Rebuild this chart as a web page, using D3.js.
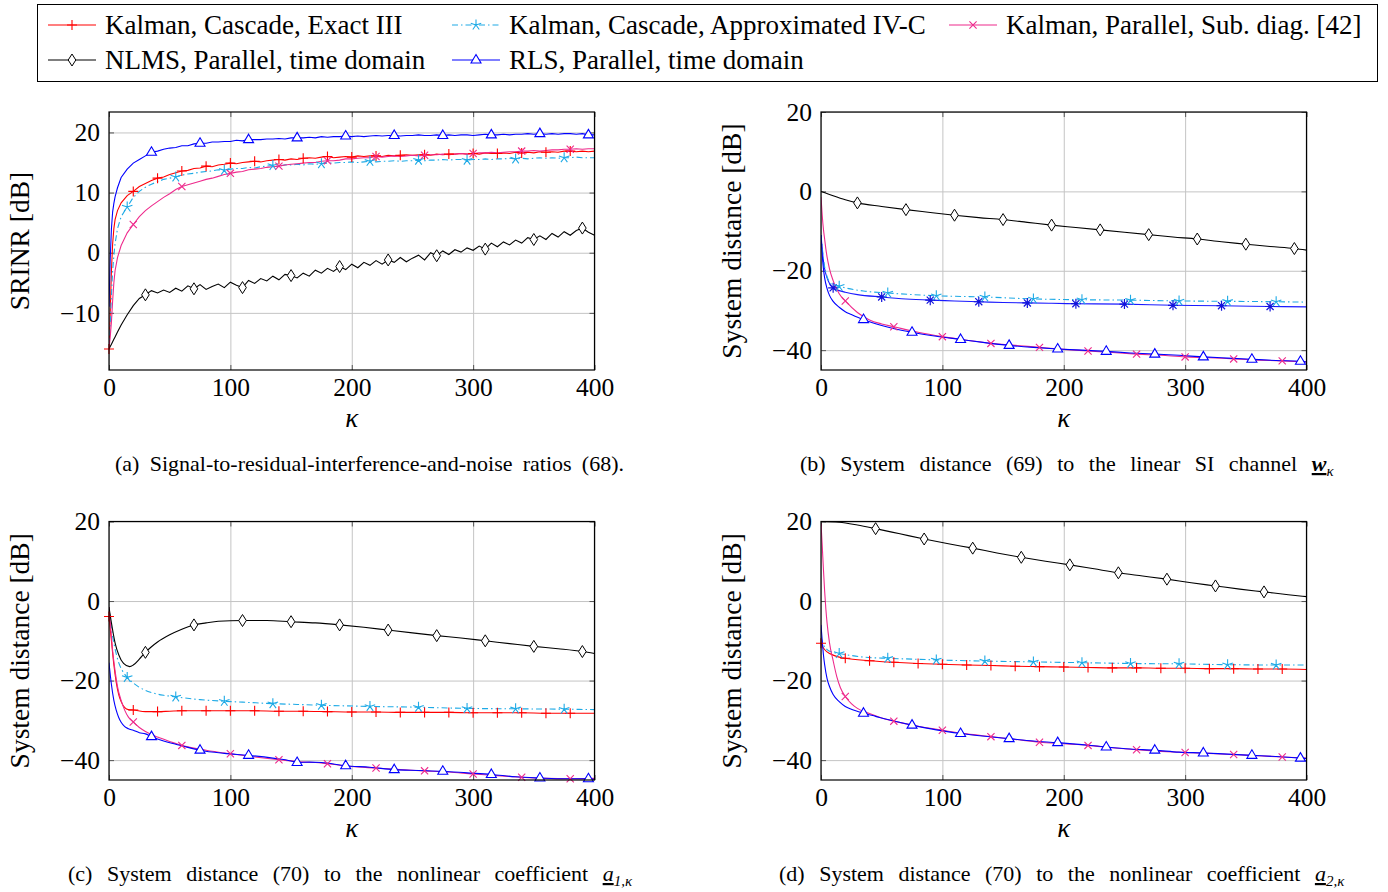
<!DOCTYPE html>
<html>
<head>
<meta charset="utf-8">
<script src="https://cdn.jsdelivr.net/npm/d3@7"></script>
<style>
  body { margin: 0; background: #fff; }
  svg text { font-family: "Liberation Serif", "Times New Roman", serif; fill: #000; }
</style>
</head>
<body>
<svg id="fig" width="1388" height="892"></svg>
<script>
// ---- data: [kappa, dB] ----
const xTicks = [0, 100, 200, 300, 400];
const srinrTicks = [-10, 0, 10, 20];
const distTicks = [-40, -20, 0, 20];

// (a) SRINR
const aExact = [[0,-16],[1,-10],[2,-3],[3,1.5],[4,4],[5,5.5],[7,7],[10,8.3],[15,9.5],[20,10.2],[25,11.0],[30,11.5],[35,12.0],[40,12.4],[45,12.6],[50,13.0],[55,13.3],[60,13.6],[65,13.7],[70,14.0],[75,14.1],[80,14.4],[85,14.3],[90,14.6],[95,14.7],[100,14.9],[105,14.8],[110,15.0],[115,15.1],[120,15.2],[125,15.1],[130,15.3],[135,15.4],[140,15.5],[145,15.4],[150,15.6],[155,15.5],[160,15.7],[165,15.8],[170,15.7],[175,15.9],[180,16.0],[185,15.8],[190,15.9],[195,16.0],[200,15.9],[205,16.1],[210,16.0],[215,16.1],[220,16.1],[225,16.0],[230,16.2],[235,16.1],[240,16.2],[245,16.3],[250,16.2],[255,16.3],[260,16.3],[265,16.2],[270,16.4],[275,16.3],[280,16.4],[285,16.4],[290,16.5],[295,16.4],[300,16.5],[305,16.4],[310,16.6],[315,16.5],[320,16.5],[325,16.6],[330,16.5],[335,16.7],[340,16.6],[345,16.7],[350,16.6],[355,16.8],[360,16.7],[365,16.8],[370,16.7],[375,16.9],[380,16.9],[385,16.8],[390,16.9],[395,16.8],[400,16.9]];
const aApprox = [[0,-16],[1,-12],[2,-7],[3,-3],[4,-0.5],[5,1.5],[7,4],[10,6],[15,7.6],[20,9.2],[25,10.2],[30,10.9],[35,11.4],[40,11.8],[45,12.2],[50,12.4],[55,12.6],[60,12.9],[65,13.1],[70,13.2],[75,13.4],[80,13.5],[85,13.6],[90,13.8],[95,13.7],[100,13.9],[105,14.0],[110,14.0],[115,14.2],[120,14.1],[125,14.3],[130,14.4],[135,14.5],[140,14.4],[145,14.6],[150,14.6],[155,14.7],[160,14.6],[165,14.8],[170,14.7],[175,14.8],[180,14.9],[185,14.9],[190,15.0],[195,15.0],[200,15.1],[205,15.0],[210,15.1],[215,15.2],[220,15.1],[225,15.2],[230,15.2],[235,15.3],[240,15.2],[245,15.3],[250,15.3],[255,15.4],[260,15.3],[265,15.4],[270,15.4],[275,15.5],[280,15.4],[285,15.5],[290,15.5],[295,15.4],[300,15.5],[305,15.5],[310,15.6],[315,15.5],[320,15.6],[325,15.6],[330,15.7],[335,15.6],[340,15.7],[345,15.6],[350,15.7],[355,15.8],[360,15.7],[365,15.8],[370,15.7],[375,15.8],[380,15.8],[385,15.9],[390,15.8],[395,15.8],[400,15.8]];
const aSub = [[0,-16],[1,-14],[2,-11.5],[3,-8],[4,-5],[5,-3],[7,-0.8],[10,1.2],[15,3.3],[20,4.7],[25,6.0],[30,7.0],[35,7.8],[40,8.5],[45,9.2],[50,9.8],[55,10.5],[60,11.0],[65,11.3],[70,11.6],[75,11.9],[80,12.2],[85,12.4],[90,12.7],[95,13.0],[100,13.2],[105,13.4],[110,13.5],[115,13.8],[120,13.9],[125,14.0],[130,14.2],[135,14.3],[140,14.4],[145,14.6],[150,14.7],[155,14.8],[160,14.9],[165,15.0],[170,15.0],[175,15.2],[180,15.3],[185,15.3],[190,15.4],[195,15.6],[200,15.6],[205,15.7],[210,15.8],[215,15.8],[220,16.0],[225,15.9],[230,16.0],[235,16.1],[240,16.0],[245,16.1],[250,16.2],[255,16.1],[260,16.2],[265,16.3],[270,16.3],[275,16.4],[280,16.3],[285,16.4],[290,16.5],[295,16.4],[300,16.5],[305,16.6],[310,16.6],[315,16.7],[320,16.6],[325,16.7],[330,16.8],[335,16.8],[340,16.9],[345,16.9],[350,17.0],[355,16.9],[360,17.0],[365,17.1],[370,17.1],[375,17.2],[380,17.2],[385,17.3],[390,17.2],[395,17.3],[400,17.3]];
const aNLMS = [[0,-16],[1,-15.6],[2,-15.2],[3,-14.8],[4,-14.4],[5,-14],[7,-13.2],[10,-12],[15,-10.3],[20,-8.8],[25,-7.6],[30,-7.0],[35,-6.3],[40,-6.7],[45,-6.2],[50,-6.6],[55,-5.9],[60,-6.4],[65,-5.5],[70,-6.0],[75,-5.3],[80,-6.1],[85,-5.6],[90,-5.2],[95,-5.8],[100,-4.9],[105,-5.4],[110,-5.8],[115,-4.6],[120,-5.1],[125,-4.3],[130,-4.7],[135,-3.9],[140,-4.5],[145,-3.6],[150,-3.8],[155,-4.2],[160,-3.4],[165,-3.9],[170,-2.9],[175,-3.4],[180,-2.6],[185,-3.1],[190,-2.3],[195,-2.8],[200,-1.9],[205,-2.5],[210,-1.6],[215,-2.1],[220,-1.3],[225,-1.9],[230,-1.2],[235,-1.6],[240,-0.8],[245,-1.5],[250,-0.9],[255,-0.4],[260,-1.2],[265,0.0],[270,-0.5],[275,0.3],[280,-0.3],[285,0.5],[290,0.1],[295,0.8],[300,0.4],[305,1.1],[310,0.6],[315,1.6],[320,1.0],[325,1.8],[330,1.3],[335,2.1],[340,1.6],[345,2.5],[350,2.2],[355,2.8],[360,2.2],[365,3.2],[370,2.6],[375,3.5],[380,2.9],[385,3.7],[390,4.1],[395,3.4],[400,2.9]];
const aRLS = [[0,-9],[1,-1],[2,4],[3,6.8],[4,8.2],[5,9.3],[7,10.8],[10,12.5],[15,13.9],[20,14.9],[25,15.5],[30,16.1],[35,16.7],[40,16.9],[45,17.2],[50,17.4],[55,17.5],[60,17.8],[65,17.8],[70,18.1],[75,18.2],[80,18.2],[85,18.4],[90,18.4],[95,18.5],[100,18.5],[105,18.7],[110,18.6],[115,18.8],[120,18.8],[125,18.8],[130,18.9],[135,18.9],[140,19.0],[145,18.9],[150,19.1],[155,19.1],[160,19.1],[165,19.2],[170,19.1],[175,19.3],[180,19.2],[185,19.3],[190,19.3],[195,19.4],[200,19.3],[205,19.4],[210,19.3],[215,19.4],[220,19.5],[225,19.4],[230,19.5],[235,19.5],[240,19.4],[245,19.5],[250,19.5],[255,19.6],[260,19.5],[265,19.5],[270,19.6],[275,19.5],[280,19.6],[285,19.5],[290,19.6],[295,19.6],[300,19.5],[305,19.6],[310,19.7],[315,19.6],[320,19.6],[325,19.7],[330,19.6],[335,19.7],[340,19.7],[345,19.8],[350,19.7],[355,19.8],[360,19.7],[365,19.8],[370,19.7],[375,19.8],[380,19.8],[385,19.7],[390,19.8],[395,19.6],[400,19.6]];

// (b) linear SI channel
const bExact = [[0,-11],[1,-14.5],[2,-17.5],[3,-19.5],[5,-21.8],[7,-23.2],[10,-24.3],[15,-25.0],[20,-25.4],[30,-26.0],[50,-26.6],[70,-27.1],[90,-27.4],[110,-27.6],[130,-27.8],[150,-28.0],[170,-28.1],[190,-28.2],[210,-28.3],[250,-28.4],[290,-28.7],[330,-28.8],[370,-29.0],[400,-29.1]];
const bApprox = [[0,-11],[1,-14],[2,-17],[3,-19],[5,-21.5],[7,-22.8],[10,-23.6],[15,-23.9],[20,-24.3],[35,-25.1],[55,-25.6],[75,-26.0],[95,-26.3],[135,-26.6],[175,-27.1],[215,-27.3],[255,-27.4],[295,-27.6],[335,-27.7],[375,-27.8],[400,-27.9]];
const bSub = [[0,-1.4],[1,-6],[2,-9.5],[3,-12],[4,-14.5],[5,-16.5],[7,-19.5],[10,-22.5],[15,-25.8],[20,-27.6],[30,-30.5],[40,-32.4],[50,-33.4],[60,-34.1],[80,-35.5],[100,-36.6],[120,-37.5],[140,-38.3],[160,-38.8],[180,-39.3],[200,-39.8],[220,-40.2],[240,-40.6],[260,-41.0],[280,-41.3],[300,-41.7],[320,-41.9],[340,-42.2],[360,-42.5],[380,-42.7],[400,-43.0]];
const bNLMS = [[0,0],[10,-1.1],[20,-2.1],[30,-2.9],[50,-3.8],[70,-4.6],[90,-5.3],[110,-6.0],[130,-6.6],[150,-7.1],[170,-7.8],[190,-8.5],[210,-9.1],[230,-9.7],[250,-10.3],[270,-10.9],[290,-11.5],[310,-12.0],[330,-12.7],[350,-13.3],[370,-13.9],[390,-14.4],[400,-14.8]];
const bRLS = [[0,-11],[1,-16],[2,-19.5],[3,-21.8],[5,-24.5],[7,-26.2],[10,-27.7],[15,-29.2],[20,-30.3],[25,-31.0],[35,-32.3],[50,-33.8],[75,-35.5],[95,-36.5],[115,-37.3],[135,-38.1],[155,-38.8],[175,-39.3],[195,-39.7],[215,-40.0],[235,-40.3],[255,-40.7],[275,-41.0],[295,-41.3],[315,-41.7],[335,-42.0],[355,-42.3],[375,-42.6],[395,-42.8],[400,-43.0]];

// (c) nonlinear coefficient a1
const cExact = [[0,-3.9],[2,-10],[4,-16],[6,-20.5],[8,-23.5],[10,-25.3],[13,-26.8],[16,-27.3],[20,-27.4],[30,-27.8],[40,-27.8],[50,-27.7],[60,-27.6],[80,-27.6],[100,-27.6],[120,-27.6],[140,-27.7],[160,-27.7],[180,-27.8],[200,-27.9],[220,-27.9],[240,-28.0],[260,-28.0],[280,-28.0],[300,-28.1],[320,-28.1],[340,-28.1],[360,-28.2],[380,-28.2],[400,-28.2]];
const cApprox = [[0,-2],[2,-7],[5,-12],[8,-15.5],[11,-17.5],[15,-19.2],[20,-20.6],[25,-21.7],[35,-23.0],[45,-23.7],[55,-24.1],[75,-24.8],[95,-25.2],[115,-25.5],[135,-25.8],[155,-26.0],[175,-26.2],[215,-26.5],[255,-26.7],[295,-27.0],[335,-27.1],[375,-27.2],[400,-27.3]];
const cSub = [[0,-1.5],[1,-5],[2,-9],[3,-12.5],[5,-17.5],[7,-21.5],[10,-25],[13,-27.5],[16,-29.2],[20,-30.4],[25,-31.8],[30,-32.8],[40,-34.2],[50,-35.3],[60,-36.3],[80,-37.5],[100,-38.4],[120,-39.2],[140,-39.9],[160,-40.5],[170,-40.6],[180,-40.9],[200,-41.6],[220,-42.0],[240,-42.4],[260,-42.7],[280,-43.0],[300,-43.5],[320,-43.9],[340,-44.3],[360,-44.6],[380,-44.7],[400,-44.6]];
const cNLMS = [[0,-1.5],[2,-5.5],[5,-10.5],[8,-13.5],[12,-15.7],[17,-16.5],[20,-16.1],[25,-14.6],[30,-12.9],[35,-11.5],[40,-10.3],[50,-8.5],[60,-7.1],[70,-6.0],[80,-5.5],[90,-5.1],[110,-4.9],[130,-4.9],[150,-5.2],[170,-5.5],[190,-6.0],[210,-6.6],[230,-7.3],[250,-8.0],[270,-8.7],[290,-9.3],[310,-10.0],[330,-10.7],[350,-11.4],[370,-12.0],[390,-12.7],[400,-13.2]];
const cRLS = [[0,-15.5],[2,-21],[4,-25],[6,-27.5],[8,-29.3],[10,-30.5],[13,-31.6],[16,-32.1],[20,-32.5],[25,-33.1],[30,-33.4],[35,-34.1],[45,-35.2],[55,-36.0],[65,-36.8],[75,-37.5],[95,-38.3],[115,-38.8],[135,-39.5],[150,-40.2],[155,-40.6],[165,-40.5],[175,-40.6],[195,-41.4],[215,-41.8],[235,-42.4],[255,-42.6],[275,-42.8],[295,-43.2],[315,-43.6],[335,-44.2],[355,-44.5],[375,-44.7],[395,-44.7],[400,-44.8]];

// (d) nonlinear coefficient a2
const dExact = [[0,-10.6],[2,-11.8],[5,-12.8],[10,-13.6],[15,-14.1],[20,-14.4],[40,-15.0],[60,-15.4],[80,-15.7],[100,-15.9],[120,-16.1],[140,-16.2],[160,-16.4],[180,-16.5],[200,-16.6],[220,-16.7],[240,-16.8],[260,-16.8],[280,-16.9],[300,-16.9],[320,-17.0],[340,-17.0],[360,-17.1],[380,-17.1],[400,-17.2]];
const dApprox = [[0,-9],[2,-11],[5,-12.2],[10,-12.9],[15,-13.2],[25,-13.7],[35,-14.1],[55,-14.4],[75,-14.6],[95,-14.8],[135,-15.1],[175,-15.3],[215,-15.5],[255,-15.7],[295,-15.8],[335,-16.0],[375,-16.1],[400,-16.1]];
const dSub = [[0,19.5],[1,14],[2,8],[3,2.5],[4,-2],[5,-5.5],[7,-10.5],[10,-15],[13,-19],[16,-21.8],[20,-24],[25,-25.8],[30,-27],[40,-28.3],[50,-29.4],[60,-30.2],[80,-31.5],[100,-32.5],[120,-33.4],[140,-34.1],[160,-34.8],[180,-35.5],[200,-35.9],[220,-36.3],[240,-36.9],[260,-37.4],[280,-37.8],[300,-38.1],[320,-38.3],[340,-38.6],[360,-38.9],[380,-39.2],[400,-39.5]];
const dNLMS = [[0,20],[15,19.8],[30,19.1],[45,18.2],[65,16.9],[85,15.6],[105,14.4],[125,13.3],[145,12.1],[165,11.0],[185,10.0],[205,9.1],[225,8.1],[245,7.1],[265,6.3],[285,5.5],[305,4.6],[325,3.8],[345,3.0],[365,2.3],[385,1.6],[400,1.1]];
const dRLS = [[0,-6],[1,-10],[2,-13.5],[3,-16],[5,-19.5],[7,-21.5],[10,-23.5],[15,-25.3],[20,-26.5],[25,-27.2],[35,-28.2],[45,-29.0],[55,-29.8],[75,-31.2],[95,-32.4],[115,-33.3],[135,-34.0],[155,-34.6],[175,-35.2],[195,-35.6],[215,-36.1],[235,-36.7],[255,-37.2],[275,-37.5],[295,-38.0],[315,-38.2],[335,-38.5],[355,-38.8],[375,-39.1],[395,-39.5],[400,-39.6]];

const legendNames = {
    exact: "Kalman, Cascade, Exact III",
    approx: "Kalman, Cascade, Approximated IV-C",
    sub: "Kalman, Parallel, Sub. diag. [42]",
    nlms: "NLMS, Parallel, time domain",
    rls: "RLS, Parallel, time domain"
};

// ---- styles ----
const styles = {
    exact:  { color: "#ff0000", mark: "plus" },
    approx: { color: "#1eaae6", mark: "star", dash: "6,3,1.5,3" },
    sub:    { color: "#ee2a8c", mark: "cross" },
    nlms:   { color: "#000000", mark: "diamond" },
    rls:    { color: "#0000ff", mark: "triangle" },
    exactB: { color: "#1a1aff", mark: "asterisk", markColor: "#1212dc" }
};

const svg = d3.select("#fig");

function drawMark(g, type, cx, cy, color) {
    if (type === "plus") {
        g.append("path").attr("d", `M${cx-5},${cy}H${cx+5}M${cx},${cy-5}V${cy+5}`)
         .attr("stroke", color).attr("stroke-width", 1.1).attr("fill", "none");
    } else if (type === "cross") {
        g.append("path").attr("d", `M${cx-3.6},${cy-3.6}L${cx+3.6},${cy+3.6}M${cx-3.6},${cy+3.6}L${cx+3.6},${cy-3.6}`)
         .attr("stroke", color).attr("stroke-width", 1.1).attr("fill", "none");
    } else if (type === "star") {
        let d = "";
        for (let i = 0; i < 5; i++) {
            const a = -Math.PI / 2 + i * 2 * Math.PI / 5;
            d += `M${cx},${cy}L${cx + 5.5 * Math.cos(a)},${cy + 5.5 * Math.sin(a)}`;
        }
        g.append("path").attr("d", d).attr("stroke", color).attr("stroke-width", 1.1).attr("fill", "none");
    } else if (type === "asterisk") {
        let d = "";
        for (let i = 0; i < 4; i++) {
            const a = i * Math.PI / 4;
            d += `M${cx - 5 * Math.cos(a)},${cy - 5 * Math.sin(a)}L${cx + 5 * Math.cos(a)},${cy + 5 * Math.sin(a)}`;
        }
        g.append("path").attr("d", d).attr("stroke", color).attr("stroke-width", 1.2).attr("fill", "none");
    } else if (type === "diamond") {
        g.append("path").attr("d", `M${cx},${cy-6}L${cx+3.8},${cy}L${cx},${cy+6}L${cx-3.8},${cy}Z`)
         .attr("stroke", color).attr("stroke-width", 1).attr("fill", "#fff");
    } else if (type === "triangle") {
        g.append("path").attr("d", `M${cx},${cy-5.5}L${cx+5},${cy+3}L${cx-5},${cy+3}Z`)
         .attr("stroke", color).attr("stroke-width", 1.1).attr("fill", "#fff");
    }
}

const panels = [
    { box: [109, 112, 485.5, 258], yDom: [-19.5, 23.4], yTicks: srinrTicks, yLabel: "SRINR [dB]", curve: d3.curveLinear,
      series: [["exact", aExact, [0, 20, 380]], ["approx", aApprox, [15, 40, 375]], ["sub", aSub, [20, 40, 380]],
               ["nlms", aNLMS, [30, 40, 390]], ["rls", aRLS, [35, 40, 395]]] },
    { box: [821, 112, 485.5, 258], yDom: [-45, 20], yTicks: distTicks, yLabel: "System distance [dB]", curve: d3.curveMonotoneX,
      series: [["exactB", bExact, [10, 40, 370]], ["approx", bApprox, [15, 40, 375]], ["sub", bSub, [20, 40, 380]],
               ["nlms", bNLMS, [30, 40, 390]], ["rls", bRLS, [35, 40, 395]]] },
    { box: [109, 521.5, 485.5, 258.5], yDom: [-45, 20], yTicks: distTicks, yLabel: "System distance [dB]", curve: d3.curveMonotoneX,
      series: [["exact", cExact, [0, 20, 380]], ["approx", cApprox, [15, 40, 375]], ["sub", cSub, [20, 40, 380]],
               ["nlms", cNLMS, [30, 40, 390]], ["rls", cRLS, [35, 40, 395]]] },
    { box: [821, 521.5, 485.5, 258.5], yDom: [-45, 20], yTicks: distTicks, yLabel: "System distance [dB]", curve: d3.curveMonotoneX,
      series: [["exact", dExact, [0, 20, 380]], ["approx", dApprox, [15, 40, 375]], ["sub", dSub, [20, 40, 380]],
               ["nlms", dNLMS, [45, 40, 365]], ["rls", dRLS, [35, 40, 395]]] }
];

const fmt = v => v < 0 ? "\u2212" + (-v) : String(v);

panels.forEach((p, i) => {
    const [bx, by, bw, bh] = p.box;
    const x = d3.scaleLinear().domain([0, 400]).range([bx, bx + bw]);
    const y = d3.scaleLinear().domain(p.yDom).range([by + bh, by]);
    const g = svg.append("g");

    svg.append("clipPath").attr("id", "clip" + i)
       .append("rect").attr("x", bx).attr("y", by).attr("width", bw).attr("height", bh);

    // grid
    const gx = g.append("g").attr("transform", `translate(0,${by + bh})`)
        .call(d3.axisBottom(x).tickValues(xTicks).tickSize(-bh).tickFormat(""));
    const gy = g.append("g").attr("transform", `translate(${bx},0)`)
        .call(d3.axisLeft(y).tickValues(p.yTicks).tickSize(-bw).tickFormat(""));
    [gx, gy].forEach(a => {
        a.select(".domain").remove();
        a.selectAll("line").attr("stroke", "#c4c4c4").attr("stroke-width", 1);
    });

    // inward ticks on all four sides
    const tk = [
        g.append("g").attr("transform", `translate(0,${by + bh})`).call(d3.axisBottom(x).tickValues(xTicks).tickSize(-5).tickFormat("")),
        g.append("g").attr("transform", `translate(0,${by})`).call(d3.axisTop(x).tickValues(xTicks).tickSize(-5).tickFormat("")),
        g.append("g").attr("transform", `translate(${bx},0)`).call(d3.axisLeft(y).tickValues(p.yTicks).tickSize(-5).tickFormat("")),
        g.append("g").attr("transform", `translate(${bx + bw},0)`).call(d3.axisRight(y).tickValues(p.yTicks).tickSize(-5).tickFormat(""))
    ];
    tk.forEach(a => {
        a.select(".domain").remove();
        a.selectAll("line").attr("stroke", "#555").attr("stroke-width", 1);
    });

    // tick labels
    const lx = g.append("g").attr("transform", `translate(0,${by + bh})`)
        .call(d3.axisBottom(x).tickValues(xTicks).tickSize(0).tickPadding(8).tickFormat(fmt));
    const ly = g.append("g").attr("transform", `translate(${bx},0)`)
        .call(d3.axisLeft(y).tickValues(p.yTicks).tickSize(0).tickPadding(9).tickFormat(fmt));
    [lx, ly].forEach(a => {
        a.select(".domain").remove();
        a.attr("font-family", null).attr("font-size", 25.5);
        a.selectAll("text").attr("fill", "#000");
    });

    // axis labels
    g.append("text").attr("x", bx + bw / 2).attr("y", by + bh + 57)
     .attr("text-anchor", "middle").attr("font-size", 27).attr("font-style", "italic").text("\u03BA");
    g.append("text").attr("transform", `translate(${bx - 80},${by + bh / 2}) rotate(-90)`)
     .attr("text-anchor", "middle").attr("font-size", 27.5).text(p.yLabel);

    // series
    const plot = g.append("g").attr("clip-path", `url(#clip${i})`);
    const line = d3.line().x(d => x(d[0])).y(d => y(d[1])).curve(p.curve);
    p.series.forEach(([key, data]) => {
        const st = styles[key];
        plot.append("path").datum(data).attr("d", line)
            .attr("fill", "none").attr("stroke", st.color).attr("stroke-width", 1.1)
            .attr("stroke-dasharray", st.dash || null);
    });
    const marks = g.append("g");
    p.series.forEach(([key, data, mk]) => {
        const st = styles[key];
        d3.range(mk[0], mk[2] + 1, mk[1]).forEach(k => {
            const pt = data.find(d => d[0] === k);
            if (pt) drawMark(marks, st.mark, x(pt[0]), y(pt[1]), st.markColor || st.color);
        });
    });

    // frame
    g.append("rect").attr("x", bx).attr("y", by).attr("width", bw).attr("height", bh)
     .attr("fill", "none").attr("stroke", "#000").attr("stroke-width", 1.2);
});

// ---- legend ----
const lg = svg.append("g");
lg.append("rect").attr("x", 37.5).attr("y", 4.5).attr("width", 1340).attr("height", 77)
  .attr("fill", "#fff").attr("stroke", "#000").attr("stroke-width", 1);
const legendLayout = [
    ["exact", 48, 25], ["approx", 452, 25], ["sub", 949, 25],
    ["nlms", 48, 60], ["rls", 452, 60]
];
legendLayout.forEach(([key, lx, ly]) => {
    const st = styles[key];
    lg.append("line").attr("x1", lx).attr("x2", lx + 48).attr("y1", ly).attr("y2", ly)
      .attr("stroke", st.color).attr("stroke-width", 1.1).attr("stroke-dasharray", st.dash || null);
    drawMark(lg, st.mark, lx + 24, ly, st.color);
    lg.append("text").attr("x", lx + 57).attr("y", ly + 9).attr("font-size", 27).text(legendNames[key]);
});

// ---- captions (justified by widening word gaps) ----
function caption(x0, yb, width, parts) {
    const t = svg.append("text").attr("x", x0).attr("y", yb).attr("font-size", 22);
    parts.forEach(pt => {
        const s = t.append("tspan").text(pt.t);
        if (pt.style) s.attr("font-style", pt.style);
        if (pt.weight) s.attr("font-weight", pt.weight);
        if (pt.u) s.style("text-decoration", "underline");
        if (pt.sub) s.attr("font-size", 15).attr("dy", 5);
    });
    const spaces = parts.map(pt => pt.t).join("").split(" ").length - 1;
    const len = t.node().getComputedTextLength();
    if (len < width && spaces > 0) t.attr("word-spacing", Math.min(9, (width - len) / spaces));
}
caption(115, 471, 509, [{ t: "(a) Signal-to-residual-interference-and-noise ratios (68)." }]);
caption(800, 471, 553, [{ t: "(b) System distance (69) to the linear SI channel " },
    { t: "w", style: "italic", weight: "bold", u: true }, { t: "\u03BA", style: "italic", sub: true }]);
caption(68, 881, 566, [{ t: "(c) System distance (70) to the nonlinear coefficient " },
    { t: "a", style: "italic", u: true }, { t: "1,\u03BA", style: "italic", sub: true }]);
caption(779, 881, 567, [{ t: "(d) System distance (70) to the nonlinear coefficient " },
    { t: "a", style: "italic", u: true }, { t: "2,\u03BA", style: "italic", sub: true }]);
</script>
</body>
</html>
